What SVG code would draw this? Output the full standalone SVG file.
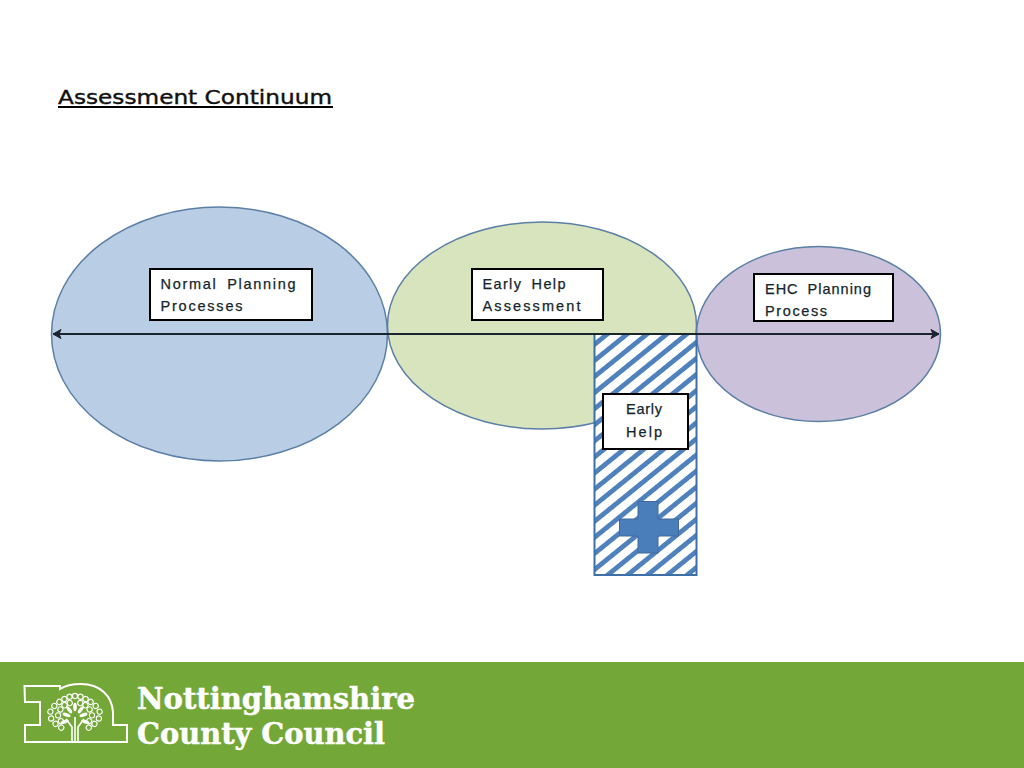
<svg xmlns="http://www.w3.org/2000/svg" xmlns:xlink="http://www.w3.org/1999/xlink" width="1024" height="768" viewBox="0 0 1024 768">
<style>
.oval{stroke:#5b7fa6;stroke-width:1.5}
.box{fill:#fff;stroke:#000;stroke-width:2}
.t{font-family:"Liberation Sans",Arial,sans-serif;font-size:14.5px;fill:#14262c;stroke:#14262c;stroke-width:.25;word-spacing:4px}
.logo{font-family:"DejaVu Serif","Liberation Serif",serif;font-weight:bold;fill:#fff;stroke:#fff;stroke-width:.5;font-size:29px}
.lf{fill:none;stroke:#fff;stroke-width:1.1}
</style>
<defs>
<pattern id="hatch" width="12.5" height="12.5" patternUnits="userSpaceOnUse" patternTransform="rotate(51 594 334)">
<rect width="12.5" height="12.5" fill="#fff"/>
<rect width="4.800" height="12.5" fill="#4f81bd"/>
</pattern>
<marker id="open" viewBox="0 0 12 12" refX="11" refY="6" markerWidth="12" markerHeight="12" markerUnits="userSpaceOnUse" orient="auto-start-reverse">
<path d="M3 1.500 11 6 3 10.500 5 6Z" fill="#1a2530" stroke="#1a2530" stroke-width="1"/>
</marker>
<circle id="c" r="2.600" class="lf"/>
<ellipse id="e" rx="1.800" ry="4.200" fill="#fff"/>
</defs>
<rect width="1024" height="768" fill="#fff"/>
<g id="title">
<text x="58" y="104" font-family="DejaVu Sans,sans-serif" font-size="20" fill="#111" stroke="#111" stroke-width=".4" textLength="274" lengthAdjust="spacingAndGlyphs">Assessment Continuum</text>
<rect x="58" y="106" width="275" height="2" fill="#000"/>
</g>
<g id="node-normal">
<ellipse class="oval" cx="219.500" cy="334" rx="168" ry="127" fill="#b9cde5"/>
</g>
<g id="node-early-assessment">
<ellipse class="oval" cx="542" cy="325.500" rx="154.500" ry="103.500" fill="#d7e4bd"/>
</g>
<g id="node-ehc">
<ellipse class="oval" cx="818.500" cy="334" rx="122" ry="87.500" fill="#ccc1da"/>
</g>
<g id="node-early-help-bar">
<rect x="594.500" y="334" width="102" height="241" fill="url(#hatch)" stroke="#3f6fa8" stroke-width="2"/>
<path d="M638 501.500H658V519H678.500V536H658V553H638V536H619.500V519H638Z" fill="#4a7ebb" stroke="#41699c" stroke-width="1"/>
</g>
<g id="connectors">
<line x1="53" y1="334" x2="939" y2="334" stroke="#1a2530" stroke-width="2" marker-start="url(#open)" marker-end="url(#open)"/>
</g>
<g id="label-normal">
<rect class="box" x="150" y="269" width="162" height="51"/>
<text class="t" x="160.500" y="289" textLength="135">Normal Planning</text>
<text class="t" x="160.500" y="311" textLength="82">Processes</text>
</g>
<g id="label-early-assessment">
<rect class="box" x="472" y="269" width="131" height="51"/>
<text class="t" x="482.500" y="289" textLength="83">Early Help</text>
<text class="t" x="482.500" y="311" textLength="98">Assessment</text>
</g>
<g id="label-ehc">
<rect class="box" x="754" y="274" width="139" height="47"/>
<text class="t" x="765" y="294" textLength="106">EHC Planning</text>
<text class="t" x="765" y="316" textLength="62">Process</text>
</g>
<g id="label-early-help">
<rect class="box" x="603" y="394" width="85" height="55"/>
<text class="t" x="626" y="414" textLength="36">Early</text>
<text class="t" x="626" y="437" textLength="36">Help</text>
</g>
<g id="footer">
<rect x="0" y="662" width="1024" height="106" fill="#73a839"/>
<path d="M24.500 686H60V689C66 685 73 684 81 684C100 684 112 696 113 712V725H127V742H25V725H40V702H25Z" fill="none" stroke="#fff" stroke-width="2"/>
<g id="logo-tree" transform="translate(0 1)">
<path d="M47 722L48 722" stroke="none"/>
<use xlink:href="#c" transform="rotate(-112 75 715) translate(75 694)"/>
<use xlink:href="#c" transform="rotate(-96 75 715) translate(75 691)"/>
<use xlink:href="#c" transform="rotate(-80 75 715) translate(75 690)"/>
<use xlink:href="#c" transform="rotate(-64 75 715) translate(75 692)"/>
<use xlink:href="#c" transform="rotate(-48 75 715) translate(75 694)"/>
<use xlink:href="#c" transform="rotate(-32 75 715) translate(75 695)"/>
<use xlink:href="#c" transform="rotate(-16 75 715) translate(75 695)"/>
<use xlink:href="#c" transform="rotate(0 75 715) translate(75 695)"/>
<use xlink:href="#c" transform="rotate(16 75 715) translate(75 695)"/>
<use xlink:href="#c" transform="rotate(32 75 715) translate(75 695)"/>
<use xlink:href="#c" transform="rotate(48 75 715) translate(75 694)"/>
<use xlink:href="#c" transform="rotate(64 75 715) translate(75 692)"/>
<use xlink:href="#c" transform="rotate(80 75 715) translate(75 690)"/>
<use xlink:href="#c" transform="rotate(96 75 715) translate(75 691)"/>
<use xlink:href="#c" transform="rotate(112 75 715) translate(75 694)"/>
<use xlink:href="#c" transform="rotate(-130 75 715) translate(75 697)"/>
<use xlink:href="#c" transform="rotate(130 75 715) translate(75 697)"/>
<use xlink:href="#c" transform="rotate(-110 75 715) translate(75 700)"/>
<use xlink:href="#c" transform="rotate(-88 75 715) translate(75 698)"/>
<use xlink:href="#c" transform="rotate(-66 75 715) translate(75 699)"/>
<use xlink:href="#c" transform="rotate(-44 75 715) translate(75 700)"/>
<use xlink:href="#c" transform="rotate(-22 75 715) translate(75 701)"/>
<use xlink:href="#c" transform="rotate(22 75 715) translate(75 701)"/>
<use xlink:href="#c" transform="rotate(44 75 715) translate(75 700)"/>
<use xlink:href="#c" transform="rotate(66 75 715) translate(75 699)"/>
<use xlink:href="#c" transform="rotate(88 75 715) translate(75 698)"/>
<use xlink:href="#c" transform="rotate(110 75 715) translate(75 700)"/>
<use xlink:href="#e" transform="rotate(-70 75 717) translate(75 708)"/>
<use xlink:href="#e" transform="rotate(-35 75 717) translate(75 707)"/>
<use xlink:href="#e" transform="translate(75 706)"/>
<use xlink:href="#e" transform="rotate(35 75 717) translate(75 707)"/>
<use xlink:href="#e" transform="rotate(70 75 717) translate(75 708)"/>
<use xlink:href="#e" transform="rotate(-110 75 717) translate(75 706)"/>
<use xlink:href="#e" transform="rotate(110 75 717) translate(75 706)"/>
<path d="M72 740V726L66 718M78 740V726L84 718M75 740V716" fill="none" stroke="#fff" stroke-width="1.600"/>
</g>
<text class="logo" x="137" y="709" textLength="278" lengthAdjust="spacingAndGlyphs">Nottinghamshire</text>
<text class="logo" x="137" y="743.500" textLength="248" lengthAdjust="spacingAndGlyphs">County Council</text>
</g>
</svg>
